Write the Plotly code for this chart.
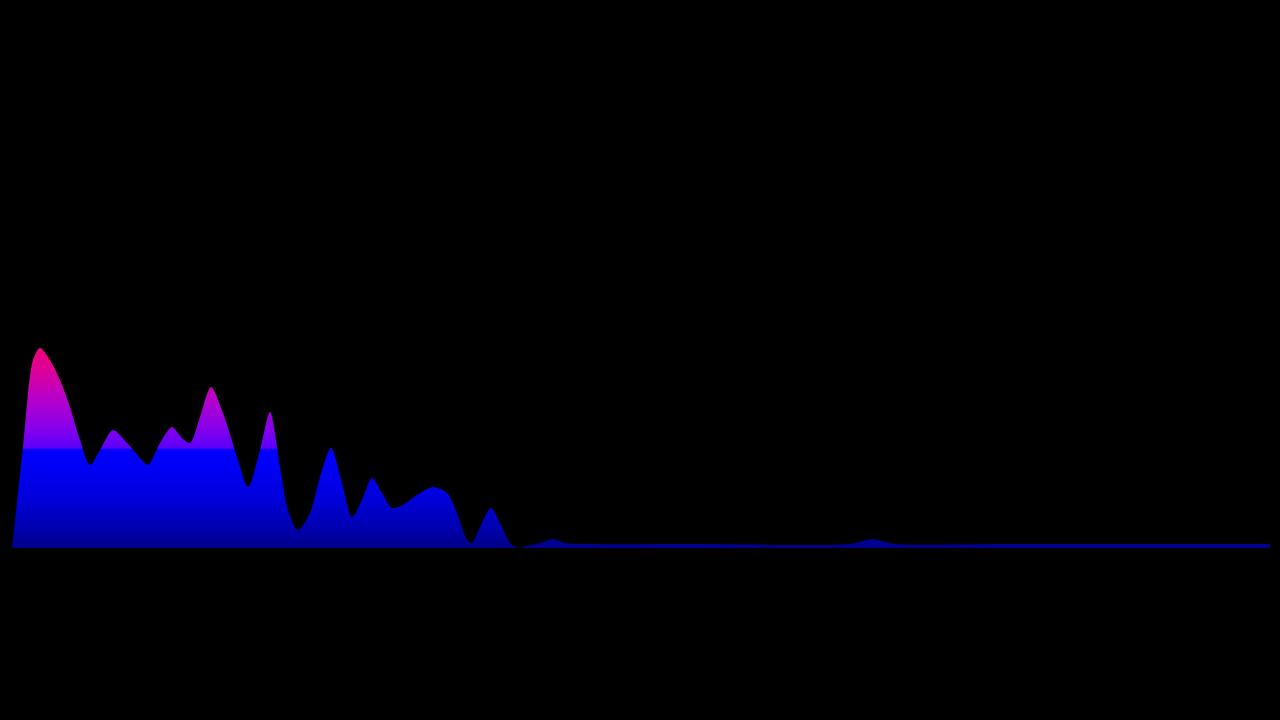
import plotly.graph_objects as go

# frequency-bin positions and spectrum amplitudes
freq_bins = [12, 23, 33, 40, 50, 60, 70, 80, 90, 100, 113, 127, 140, 148, 160, 172, 182, 190,
             200, 211, 223, 237, 248, 260, 270, 280, 288, 298, 310, 320, 331, 342, 352, 362,
             372, 382, 392, 403, 417, 433, 447, 457, 467, 472, 480, 491, 500, 510, 518, 527,
             543, 553, 565, 590, 700, 850, 872, 895, 1000, 1150, 1270]
amplitudes = [0, 101, 188, 200, 188, 168, 141, 108, 83, 98, 118, 105, 90, 83, 105, 121, 110, 105,
              131, 161, 135, 91, 61, 98, 136, 81, 38, 18, 35, 71, 100, 65, 31, 48,
              70, 55, 40, 43, 53, 61, 55, 35, 8, 5, 21, 40, 25, 5, 0, 2,
              6, 9, 5, 4, 4, 4, 9, 4, 4, 4, 4]

gradient_scale = [
    [0.0, "#000088"],
    [0.1, "#0000b0"],
    [0.25, "#0000dc"],
    [0.4, "#0000f4"],
    [0.49, "#0000ff"],
    [0.5, "#5c00fa"],
    [0.6, "#8600ea"],
    [0.75, "#b800ca"],
    [0.88, "#dc009c"],
    [1.0, "#f00078"],
]

fig = go.Figure()
fig.add_trace(go.Scatter(
    x=freq_bins, y=amplitudes,
    mode="lines",
    line=dict(shape="spline", smoothing=0.8, width=0, color="#0000ff"),
    fill="tozeroy",
    fillgradient=dict(type="vertical", start=0, stop=200, colorscale=gradient_scale),
    hoverinfo="skip",
))

fig.update_layout(
    width=1280, height=720,
    paper_bgcolor="#000000", plot_bgcolor="#000000",
    margin=dict(l=0, r=0, t=0, b=0),
    showlegend=False,
    xaxis=dict(range=[0, 1280], visible=False, fixedrange=True),
    yaxis=dict(range=[-172, 548], visible=False, fixedrange=True),
)

fig.write_html(
    "out.html",
    config={"displayModeBar": False},
    post_script="document.body.style.margin='0';document.body.style.background='#000';",
)
